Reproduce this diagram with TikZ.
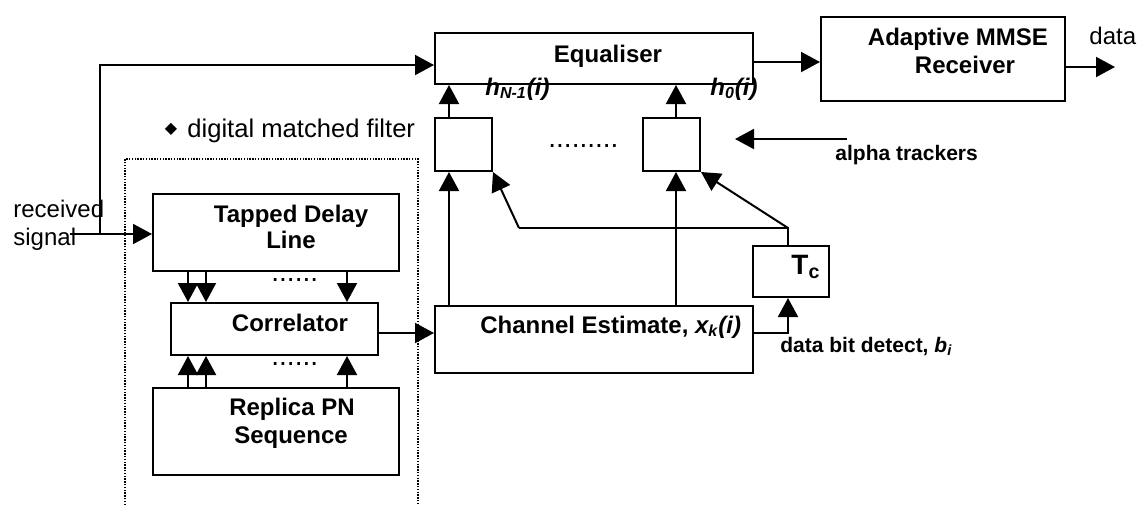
\documentclass[tikz,border=0pt]{standalone}
\usepackage{fontspec}
\setmainfont{Liberation Sans}
\newfontfamily\symfont{DejaVu Sans}
\usetikzlibrary{arrows.meta,fit}
\begin{document}
\begin{tikzpicture}[x=0.5pt,y=-0.5pt,
  box/.style={draw,line width=1pt,inner sep=0pt},
  arr/.style={line width=1pt,-{Triangle[length=9.5pt,width=10pt]}},
  ln/.style={line width=1pt},
  btext/.style={font=\bfseries\fontsize{12}{14}\selectfont},
  stext/.style={font=\bfseries\fontsize{10.5}{12}\selectfont},
  rtext/.style={font=\fontsize{12}{14}\selectfont},
  dtext/.style={font=\fontsize{14}{14}\selectfont,inner sep=0pt},
  framebox/.style={line width=0.9pt,dash pattern=on 0.7pt off 0.7pt}]
\useasboundingbox (0,0) rectangle (1146,505);
% boxes
\node[box,fit={(435,33)(753,84)}] (eq) {};
\node[box,fit={(821,17)(1065,101)}] (mmse) {};
\node[box,fit={(435,118)(492,171)}] (f1) {};
\node[box,fit={(643,118)(700,171)}] (f2) {};
\node[box,fit={(153,194)(399,271)}] (tdl) {};
\node[box,fit={(171,303)(378,355)}] (cor) {};
\node[box,fit={(153,388)(399,475)}] (rep) {};
\node[box,fit={(435,306)(753,373)}] (ce) {};
\node[box,fit={(753,246)(829,297)}] (tc) {};
% dotted frame
\draw[framebox] (125,505) -- (125,159) -- (418,159) -- (418,505);
% texts
\node[btext,anchor=base] (teq) at (608,62) {Equaliser};
\node[btext,anchor=base] (tmm1) at (958,45) {Adaptive MMSE};
\node[btext,anchor=base] (tmm2) at (965,73) {Receiver};
\node[rtext,anchor=base west,inner sep=0pt] (tdata) at (1089,44) {data};
\node[btext,anchor=base] (ttd1) at (291,222) {Tapped Delay};
\node[btext,anchor=base] (ttd2) at (291,248) {Line};
\node[btext,anchor=base] (tcor) at (290,331) {Correlator};
\node[btext,anchor=base] (trep1) at (292,415) {Replica PN};
\node[btext,anchor=base] (trep2) at (291,443) {Sequence};
\node[btext,anchor=base west,inner sep=0pt] (tce) at (480,333) {Channel Estimate, \textit{x\textsubscript{k}(i)}};
\node[stext,anchor=base west,inner sep=0pt] (tdb) at (780,352) {data bit detect, \textit{b\textsubscript{i}}};
\node[stext,anchor=base west,inner sep=0pt] (talpha) at (835,160) {alpha trackers};
\node[font=\bfseries\fontsize{14}{15}\selectfont,anchor=base west,inner sep=0pt] (ttc) at (791,274) {T\textsubscript{c}};
\node[btext,anchor=base west,inner sep=0pt] (th1) at (485,95) {\itshape h\textsubscript{N-1}(i)};
\node[btext,anchor=base west,inner sep=0pt] (th0) at (710,95) {\itshape h\textsubscript{0}(i)};
\node[rtext,anchor=base west,inner sep=0pt] (trec1) at (13,217) {received};
\node[rtext,anchor=base west,inner sep=0pt] (trec2) at (13,245) {signal};
\node[font=\symfont\fontsize{8}{8}\selectfont,inner sep=0pt] (tdia) at (171,129) {◆};
\node[font=\fontsize{12.8}{14}\selectfont,anchor=base west,inner sep=0pt] (tdmf) at (187,137) {digital matched filter};
\node[dtext,anchor=base west] (dots1) at (548,147) {.........};
\node[dtext,anchor=base west] (dots2) at (271,281) {......};
\node[dtext,anchor=base west] (dots3) at (271,365) {......};
% coordinates
\coordinate (rs) at (70,234);
\coordinate (j) at (100,234);
\coordinate (jtop) at (100,65);
\coordinate (ya) at (0,62);
\coordinate (out) at (1115,67);
\coordinate (x1) at (449,0);
\coordinate (x2) at (676,0);
\coordinate (xa) at (188,0);
\coordinate (xb) at (206,0);
\coordinate (xc) at (347,0);
\coordinate (yc) at (0,333);
\coordinate (k) at (788,228);
\coordinate (m) at (519,228);
\coordinate (al1) at (847,139);
\coordinate (al2) at (735,139);
% connectors
\draw[arr] (rs) -- (rs -| tdl.west);
\draw[arr] (j) -- (jtop) -- (jtop -| eq.west);
\draw[arr] (eq.east |- ya) -- (mmse.west |- ya);
\draw[arr] (mmse.east |- out) -- (out);
\draw[arr] (x1 |- f1.north) -- (x1 |- eq.south);
\draw[arr] (x2 |- f2.north) -- (x2 |- eq.south);
\draw[arr] (x1 |- ce.north) -- (x1 |- f1.south);
\draw[arr] (x2 |- ce.north) -- (x2 |- f2.south);
\draw[arr] (cor.east |- yc) -- (ce.west |- yc);
\foreach \c in {xa,xb,xc}{
  \draw[arr] (\c |- tdl.south) -- (\c |- cor.north);
  \draw[arr] (\c |- rep.north) -- (\c |- cor.south);
}
\draw[arr] (ce.east |- yc) -| (k |- tc.south);
\draw[ln] (k |- tc.north) -- (k) -- (m);
\draw[arr] (m) -- (f1.south east);
\draw[arr] (k) -- (f2.south east);
\draw[arr] (al1) -- (al2);
\end{tikzpicture}
\end{document}
